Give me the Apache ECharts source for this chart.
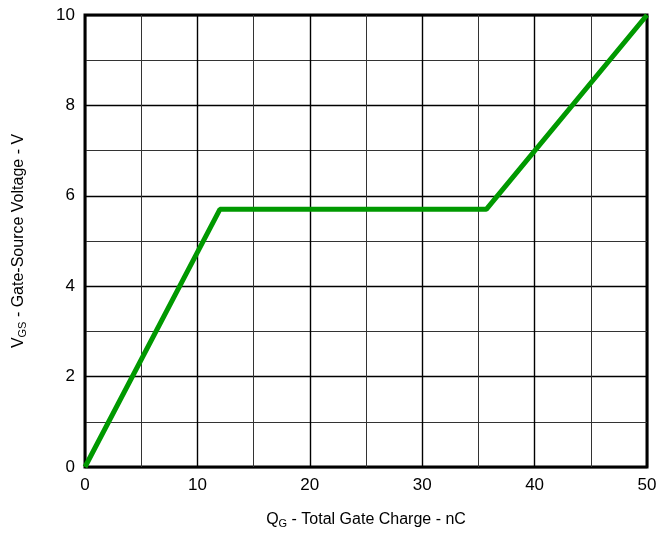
<!DOCTYPE html>
<html><head><meta charset="utf-8">
<script src="https://cdn.jsdelivr.net/npm/echarts@6/dist/echarts.min.js"></script>
<style>html,body{margin:0;padding:0;background:#fff}#c{width:660px;height:536px}</style>
</head><body><div id="c"></div>
<script>
const qg = [0, 12, 35.7, 50];
const vgs = [0, 5.7, 5.7, 10];
const xTicks = [0, 10, 20, 30, 40, 50];
const yTicks = [0, 2, 4, 6, 8, 10];

const chart = echarts.init(document.getElementById('c'));
const font = 'Liberation Sans, Arial, sans-serif';
chart.setOption({
  animation: false,
  backgroundColor: '#fff',
  grid: { left: 85, right: 13, top: 15, bottom: 69, show: true, borderColor: '#000', borderWidth: 3, backgroundColor: 'transparent' },
  xAxis: {
    type: 'value', min: 0, max: 50, interval: 10,
    name: '{n|Q}{s|G}{n| - Total Gate Charge - nC}',
    nameLocation: 'middle', nameGap: 43,
    nameTextStyle: { rich: { n: { fontFamily: font, fontSize: 16, color: '#000' }, s: { fontFamily: font, fontSize: 11, color: '#000', verticalAlign: 'bottom', padding: [8, 0, 0, 0] } } },
    axisLine: { show: false }, axisTick: { show: false },
    axisLabel: { fontFamily: font, fontSize: 17, color: '#000', margin: 10, formatter: v => String(xTicks[xTicks.indexOf(v)]) },
    splitLine: { show: true, lineStyle: { color: '#000', width: 1.4 } },
    minorTick: { show: false, splitNumber: 2 },
    minorSplitLine: { show: true, lineStyle: { color: '#333', width: 1 } }
  },
  yAxis: {
    type: 'value', min: 0, max: 10, interval: 2,
    name: '{n|V}{s|GS}{n| - Gate-Source Voltage - V}',
    nameLocation: 'middle', nameGap: 57, nameRotate: 90,
    nameTextStyle: { rich: { n: { fontFamily: font, fontSize: 16, color: '#000' }, s: { fontFamily: font, fontSize: 11, color: '#000', verticalAlign: 'bottom', padding: [8, 0, 0, 0] } } },
    axisLine: { show: false }, axisTick: { show: false },
    axisLabel: { fontFamily: font, fontSize: 17, color: '#000', margin: 10, formatter: v => String(yTicks[yTicks.indexOf(v)]) },
    splitLine: { show: true, lineStyle: { color: '#000', width: 1.4 } },
    minorTick: { show: false, splitNumber: 2 },
    minorSplitLine: { show: true, lineStyle: { color: '#333', width: 1 } }
  },
  series: [{
    type: 'line', data: qg.map((x, i) => [x, vgs[i]]),
    showSymbol: false, symbol: 'none',
    lineStyle: { color: '#009900', width: 5 },
    z: 5
  }]
});
</script></body></html>
